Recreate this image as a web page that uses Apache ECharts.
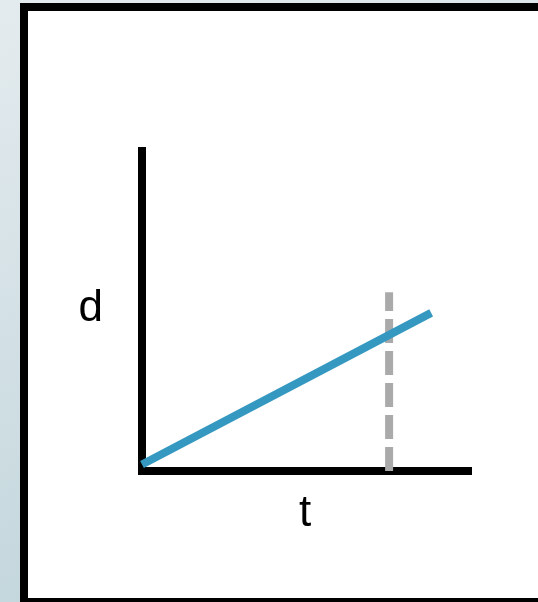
<!DOCTYPE html>
<html>
<head>
<meta charset="utf-8">
<script src="https://cdn.jsdelivr.net/npm/echarts@6/dist/echarts.min.js"></script>
<style>
  html, body { margin: 0; padding: 0; }
  #chart { width: 538px; height: 602px; }
</style>
</head>
<body>
<div id="chart"></div>
<script>
  // distance over time, with a marker at one chosen moment
  const axisNames = ['t', 'd'];
  const lineData = [[0, 0.2], [8.87, 4.88]];
  const markerData = [[7.58, 0], [7.58, 5.52]];

  const chart = echarts.init(document.getElementById('chart'));

  const option = {
    backgroundColor: new echarts.graphic.LinearGradient(0, 0, 0.3, 1, [
      { offset: 0, color: '#e4ebee' },
      { offset: 1, color: '#c2d6dc' },
    ]),
    graphic: [
      {
        type: 'rect',
        z: -10,
        shape: { x: 24, y: 7, width: 600, height: 595 },
        style: { fill: '#ffffff', stroke: '#000000', lineWidth: 8 },
      },
    ],
    grid: {
      left: 142,
      right: 70,
      top: 147,
      bottom: 131,
    },
    xAxis: {
      type: 'value',
      min: 0,
      max: 10,
      name: axisNames[0],
      nameLocation: 'middle',
      nameGap: 21,
      nameTextStyle: {
        color: '#000',
        fontSize: 44,
        fontFamily: 'Liberation Sans',
      },
      axisLine: {
        lineStyle: { color: '#000', width: 8, cap: 'square' },
      },
      axisTick: { show: false },
      axisLabel: { show: false },
      splitLine: { show: false },
    },
    yAxis: {
      type: 'value',
      min: 0,
      max: 10,
      name: axisNames[1],
      nameLocation: 'middle',
      nameRotate: 0,
      nameGap: 39,
      nameTextStyle: {
        color: '#000',
        fontSize: 44,
        fontFamily: 'Liberation Sans',
      },
      axisLine: {
        lineStyle: { color: '#000', width: 8, cap: 'butt' },
      },
      axisTick: { show: false },
      axisLabel: { show: false },
      splitLine: { show: false },
    },
    series: [
      {
        type: 'line',
        data: markerData,
        symbol: 'none',
        silent: true,
        lineStyle: { color: '#aaaaaa', width: 8, type: [24, 8] },
      },
      {
        type: 'line',
        data: lineData,
        symbol: 'none',
        silent: true,
        lineStyle: { color: '#3598c0', width: 8 },
      },
    ],
  };

  chart.setOption(option);
</script>
</body>
</html>
